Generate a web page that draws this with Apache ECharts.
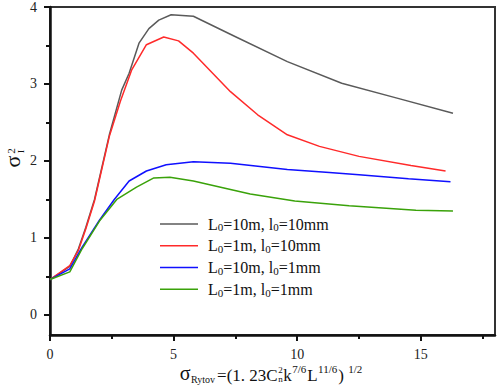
<!DOCTYPE html>
<html>
<head>
<meta charset="utf-8">
<script src="https://cdn.jsdelivr.net/npm/echarts@6/dist/echarts.min.js"></script>
<style>html,body{margin:0;padding:0;background:#fff}#c{width:498px;height:386px}</style>
</head>
<body>
<div id="c"></div>
<script>
// ---- data ----
const xMajor = [0, 5, 10, 15];
const xMinor = [2.5, 7.5, 12.5, 17.5];
const yMajor = [0, 1, 2, 3, 4];
const yMinor = [0.5, 1.5, 2.5, 3.5];

const legendL = ['10m', '1m', '10m', '1m'];
const legendl = ['10mm', '10mm', '1mm', '1mm'];

const grayX = [0, 0.8, 1.15, 1.45, 1.8, 2.4, 2.9, 3.2, 3.6, 4.0, 4.4, 4.9, 5.8, 7.4, 9.6, 11.8, 14.0, 16.3];
const grayY = [0.46, 0.63, 0.86, 1.14, 1.5, 2.34, 2.92, 3.14, 3.53, 3.72, 3.83, 3.90, 3.88, 3.63, 3.29, 3.01, 2.82, 2.62];

const redX = [0, 0.8, 1.15, 1.45, 1.8, 2.4, 2.85, 3.3, 3.9, 4.6, 5.2, 5.8, 7.3, 8.4, 9.6, 10.9, 12.5, 14.6, 16.0];
const redY = [0.46, 0.64, 0.84, 1.12, 1.48, 2.32, 2.78, 3.18, 3.51, 3.61, 3.56, 3.40, 2.90, 2.60, 2.34, 2.19, 2.06, 1.94, 1.87];

const blueX = [0, 0.8, 1.3, 2.0, 2.6, 3.2, 3.9, 4.7, 5.8, 7.3, 9.6, 11.3, 12.5, 14.5, 16.2];
const blueY = [0.46, 0.6, 0.88, 1.23, 1.5, 1.74, 1.87, 1.95, 1.99, 1.97, 1.89, 1.85, 1.82, 1.77, 1.73];

const greenX = [0, 0.8, 1.3, 2.0, 2.7, 3.5, 4.2, 4.85, 5.8, 7.3, 8.1, 9.9, 12.1, 14.8, 16.3];
const greenY = [0.46, 0.56, 0.86, 1.22, 1.5, 1.66, 1.78, 1.79, 1.74, 1.63, 1.57, 1.48, 1.42, 1.36, 1.35];

// ---- build ----
const zip = (xs, ys) => xs.map((x, i) => [x, ys[i]]);
const names = legendL.map((L, i) => 'L0=' + L + ', l0=' + legendl[i]);
const colors = ['#5a5a5a', '#ff2a2a', '#1010ff', '#3aa20a'];
const seriesData = [zip(grayX, grayY), zip(redX, redY), zip(blueX, blueY), zip(greenX, greenY)];

const SERIF = 'Liberation Serif, DejaVu Serif, serif';
const tickLabel = { fontFamily: SERIF, fontSize: 14, color: '#222' };

const chart = echarts.init(document.getElementById('c'), null, { renderer: 'svg' });

// text measuring for the x-axis title layout
const mctx = document.createElement('canvas').getContext('2d');
function measure(text, size) { mctx.font = size + 'px ' + SERIF; return mctx.measureText(text).width; }
function baseY(baseline, size) { return baseline - 0.33 * size; }
function txt(text, x, y, size, extra) {
  return Object.assign({
    type: 'text', x: x, y: y,
    style: { text: text, font: size + 'px ' + SERIF, fill: '#111', align: 'left', verticalAlign: 'middle' }
  }, extra || {});
}

// pieces: [text, size, baseline] ; a pair (array of pieces) is stacked
const titlePieces = [
  [['σ', 20, 380]],
  [['Rytov', 10, 383]],
  [['=(1. 23C', 17, 381.5]],
  [['2', 9, 373], ['n', 9, 382]],
  [['k', 17, 381.5]],
  [['7/6', 11, 373]],
  [['L', 17, 381.5]],
  [['11/6', 11, 373]],
  [[')', 17, 381.5]],
  [[' ', 17, 381.5]],
  [['1/2', 11, 373]]
];
const gaps = [0.5, 2, 0.5, 0.5, 0.5, 1, 0.5, 1, 0, 0, 0];
let total = 0;
const widths = titlePieces.map((grp, i) => {
  const w = Math.max.apply(null, grp.map(p => measure(p[0], p[1])));
  total += w + gaps[i];
  return w;
});
let cx = 271 - total / 2;
const xTitle = [];
titlePieces.forEach((grp, i) => {
  grp.forEach(p => { if (p[0].trim()) xTitle.push(txt(p[0], cx, baseY(p[2], p[1]), p[1])); });
  cx += widths[i] + gaps[i];
});

const R = Math.PI / 2;
const yTitle = [
  { type: 'text', x: 12, y: 161.5, rotation: R,
    style: { text: 'σ', font: '22px ' + SERIF, fill: '#111', align: 'center', verticalAlign: 'middle' } },
  { type: 'text', x: 10.5, y: 151, rotation: R,
    style: { text: '2', font: '11px ' + SERIF, fill: '#111', align: 'center', verticalAlign: 'middle' } },
  { type: 'text', x: 21, y: 151.5, rotation: R,
    style: { text: 'I', font: '9px ' + SERIF, fill: '#111', align: 'center', verticalAlign: 'middle' } }
];

const option = {
  animation: false,
  backgroundColor: '#fff',
  grid: { left: 50, right: 3, top: 5, bottom: 51, show: true, borderColor: '#333', borderWidth: 2, backgroundColor: 'transparent' },
  legend: {
    data: names, orient: 'vertical', left: 155, top: 211,
    icon: 'rect', itemWidth: 38, itemHeight: 1.5, itemGap: 5,
    formatter: function (name) {
      const i = names.indexOf(name);
      return '{a|L}{s|0}{a|=' + legendL[i] + ', l}{s|0}{a|=' + legendl[i] + '}';
    },
    textStyle: {
      padding: [0, 0, 0, 5],
      rich: {
        a: { fontFamily: SERIF, fontSize: 16, lineHeight: 17.5, color: '#111' },
        s: { fontFamily: SERIF, fontSize: 11, lineHeight: 11, verticalAlign: 'bottom', color: '#111' }
      }
    }
  },
  xAxis: [
    { type: 'value', min: 0, max: 18, position: 'bottom',
      axisLine: { show: true, onZero: false, lineStyle: { color: '#111', width: 2.5 } },
      axisTick: { show: true, inside: false, length: 6, customValues: xMajor, lineStyle: { color: '#111', width: 2 } },
      axisLabel: { show: true, customValues: xMajor, margin: 12, ...tickLabel },
      splitLine: { show: false } },
    { type: 'value', min: 0, max: 18, position: 'bottom', gridIndex: 0,
      axisLine: { show: false, onZero: false },
      axisTick: { show: true, inside: false, length: 4, customValues: xMinor, lineStyle: { color: '#111', width: 2 } },
      axisLabel: { show: false }, splitLine: { show: false } }
  ],
  yAxis: [
    { type: 'value', min: -0.26, max: 4, position: 'left',
      axisLine: { show: true, onZero: false, lineStyle: { color: '#111', width: 2.5 } },
      axisTick: { show: true, inside: false, length: 6, customValues: yMajor, lineStyle: { color: '#111', width: 2 } },
      axisLabel: { show: true, customValues: yMajor, margin: 13, ...tickLabel },
      splitLine: { show: false } },
    { type: 'value', min: -0.26, max: 4, position: 'left', gridIndex: 0,
      axisLine: { show: false, onZero: false },
      axisTick: { show: true, inside: false, length: 4, customValues: yMinor, lineStyle: { color: '#111', width: 2 } },
      axisLabel: { show: false }, splitLine: { show: false } }
  ],
  series: names.map((n, i) => ({
    name: n, type: 'line', data: seriesData[i], xAxisIndex: 0, yAxisIndex: 0,
    symbol: 'none', showSymbol: false, smooth: false,
    lineStyle: { color: colors[i], width: 1.5 }, itemStyle: { color: colors[i] }
  })),
  graphic: xTitle.concat(yTitle)
};
chart.setOption(option);
</script>
</body>
</html>
